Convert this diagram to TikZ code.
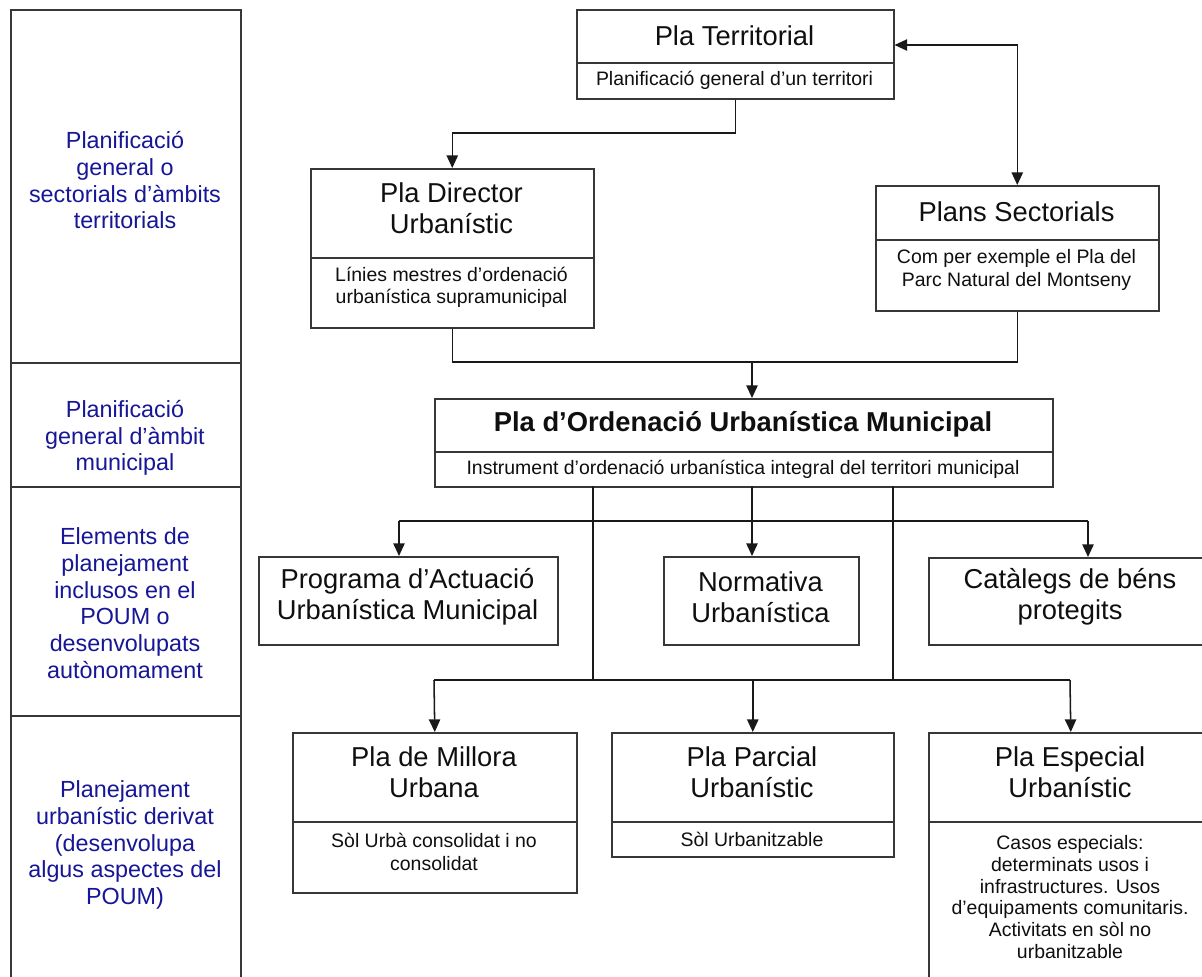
\documentclass[tikz,border=0pt]{standalone}
\usepackage{fontspec}
\setmainfont{Liberation Sans}
\usetikzlibrary{arrows.meta}
\definecolor{linec}{RGB}{55,55,55}
\definecolor{arrc}{RGB}{25,25,25}
\definecolor{bluec}{RGB}{22,22,150}
\definecolor{textc}{RGB}{15,15,15}
\begin{document}
\begin{tikzpicture}[x=0.75pt,y=-0.75pt,
  fr/.style 2 args={draw=linec, line width=1.15pt, inner sep=0pt, anchor=north west,
    minimum width=#1*0.75pt, minimum height=#2*0.75pt},
  ttl/.style={font=\fontsize{20.5}{23.5}\selectfont, text=textc, align=center, inner sep=0pt},
  ttlb/.style={font=\bfseries\fontsize{20.5}{23.5}\selectfont, text=textc, align=center, inner sep=0pt},
  sub/.style={font=\fontsize{14.6}{17}\selectfont, text=textc, align=center, inner sep=0pt},
  lab/.style={font=\fontsize{17.5}{20}\selectfont, text=bluec, align=center, inner sep=0pt},
  ln/.style={draw=arrc, line width=1.15pt},
  arr/.style={ln, -{Triangle[length=9.5pt,width=8.5pt]}},
  darr/.style={ln, {Triangle[length=9.5pt,width=8.5pt]}-{Triangle[length=9.5pt,width=8.5pt]}}
]
\useasboundingbox (0,0) rectangle (1202,976);
\fill[white] (0,0) rectangle (1202,976);

% left column
\node[fr={230}{353}] (l1) at (10,9) {};
\node[fr={230}{124}] (l2) at (10,362) {};
\node[fr={230}{229}] (l3) at (10,486) {};
\node[fr={230}{275}] (l4) at (10,715) {};
\node[lab] (tl1) at (125,180.5) {Planificació\\general o\\sectorials d’àmbits\\territorials};
\node[lab] (tl2) at (125,438) {Planificació\\general d’àmbit\\municipal};
\node[lab] (tl3) at (125,603) {Elements de\\planejament\\inclusos en el\\POUM o\\desenvolupats\\autònomament};
\node[lab] (tl4) at (125,845) {Planejament\\urbanístic derivat\\(desenvolupa\\algus aspectes del\\POUM)};

% boxes
\node[fr={317}{53}] (pt) at (576,9) {};
\node[fr={317}{36}] (pts) at (576,62) {};
\node[ttl] (tpt) at (734.5,35.5) {Pla Territorial};
\node[sub] (tpts) at (734.5,80) {Planificació general d’un territori};

\node[fr={283}{89}] (dir) at (310,168) {};
\node[fr={283}{70}] (dirs) at (310,257) {};
\node[ttl] (tdir) at (451.5,208.5) {Pla Director\\Urbanístic};
\node[sub] (tdirs) at (451.5,287.5) {Línies mestres d’ordenació\\urbanística supramunicipal};

\node[fr={283}{54}] (ps) at (875,185) {};
\node[fr={283}{71}] (pss) at (875,239) {};
\node[ttl] (tps) at (1016.5,212) {Plans Sectorials};
\node[sub] (tpss) at (1016.5,270) {Com per exemple el Pla del\\Parc Natural del Montseny};

\node[fr={618}{53}] (poum) at (434,398) {};
\node[fr={618}{35}] (poums) at (434,451) {};
\node[ttlb] (tpoum) at (743,424) {Pla d’Ordenació Urbanística Municipal};
\node[sub] (tpoums) at (743,469) {Instrument d’ordenació urbanística integral del territori municipal};

\node[fr={299}{88}] (prog) at (258,556) {};
\node[ttl] (tprog) at (407.5,597) {Programa d’Actuació\\Urbanística Municipal};
\node[fr={195}{88}] (norm) at (663,556) {};
\node[ttl] (tnorm) at (760.5,597) {Normativa\\Urbanística};
\node[fr={284}{87}] (cat) at (928,557) {};
\node[ttl] (tcat) at (1070,597) {Catàlegs de béns\\protegits};

\node[fr={284}{89}] (mil) at (292,732) {};
\node[fr={284}{71}] (mils) at (292,821) {};
\node[ttl] (tmil) at (434,772) {Pla de Millora\\Urbana};
\node[sub] (tmils) at (434,852) {Sòl Urbà consolidat i no\\consolidat};

\node[fr={282}{89}] (par) at (611,732) {};
\node[fr={282}{35}] (pars) at (611,821) {};
\node[ttl] (tpar) at (752,772) {Pla Parcial\\Urbanístic};
\node[sub] (tpars) at (752,839) {Sòl Urbanitzable};

\node[fr={284}{89}] (esp) at (928,732) {};
\node[fr={284}{170}] (esps) at (928,821) {};
\node[ttl] (tesp) at (1070,772) {Pla Especial\\Urbanístic};
\node[sub, font=\fontsize{14.6}{16.3}\selectfont] (tesps) at (1070,897) {Casos especials:\\determinats usos i\\infrastructures. Usos\\d’equipaments comunitaris.\\Activitats en sòl no\\urbanitzable};

% connectors
\coordinate (c1) at (pts.south |- {(0,133)});
\draw[arr] (pts.south) -- (c1) -| (dir.north);
\coordinate (c2) at (pt.east |- {(0,45)});
\draw[darr] (c2) -| (ps.north);
\coordinate (h1) at (752,362);
\draw[ln] (dirs.south) |- (h1) -| (pss.south);
\draw[arr] (h1) -- (h1 |- poum.north);

\coordinate (v1) at (593,486);
\coordinate (v2) at (752,486);
\coordinate (v3) at (893,486);
\coordinate (a1) at (399,521);
\coordinate (a2) at (1088,521);
\coordinate (b1) at (434,680);
\coordinate (b2) at (1070,680);
\draw[ln] (a1) -- (a2);
\draw[arr] (a1) -- (a1 |- prog.north);
\draw[arr] (a2) -- (a2 |- cat.north);
\draw[arr] (v2) -- (v2 |- norm.north);
\draw[ln] (v1) -- (v1 |- b1);
\draw[ln] (v3) -- (v3 |- b1);
\draw[ln] (b1) -- (b2);
\draw[arr] (b1) -- (mil.north);
\draw[arr] (b1 -| par.north) -- (par.north);
\draw[arr] (b2) -- (esp.north);
\end{tikzpicture}
\end{document}
